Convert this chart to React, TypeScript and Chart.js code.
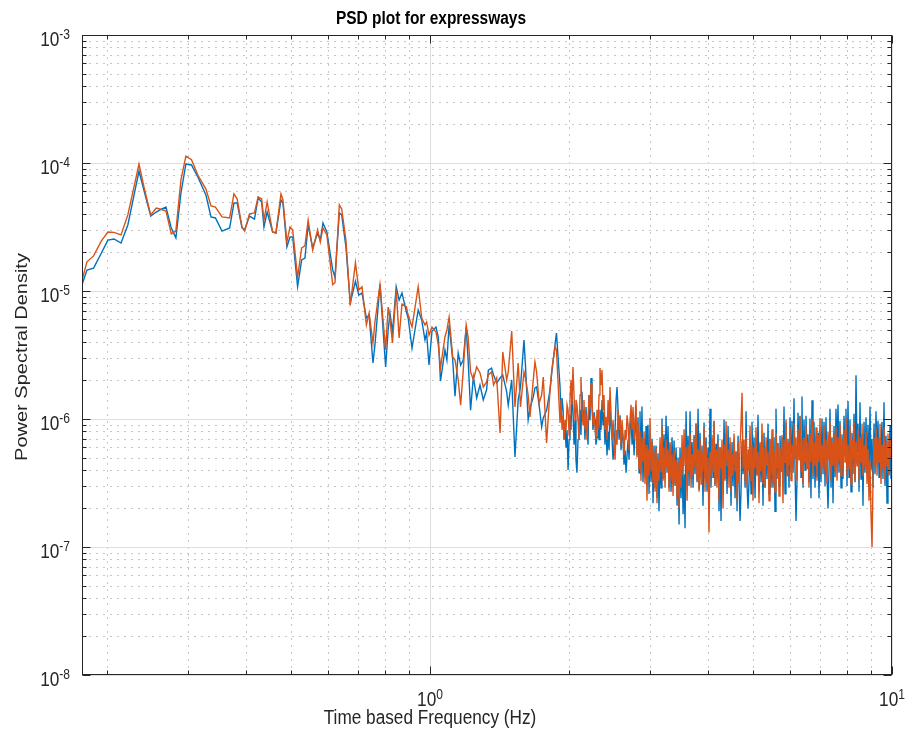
import React, { useEffect, useRef } from "react";
import { Chart, registerables } from "chart.js";

Chart.register(...registerables);

// Frequency grid (Hz), shared by both spectra
const FREQ_HZ = [
  0.1765, 0.1809, 0.1870, 0.1944, 0.2008, 0.2070, 0.2144, 0.2218, 0.2345, 0.2412,
  0.2486, 0.2555, 0.2604, 0.2682, 0.2754, 0.2818, 0.2890, 0.2962, 0.3046, 0.3144,
  0.3273, 0.3357, 0.3432, 0.3546, 0.3684, 0.3764, 0.3825, 0.3918, 0.3970, 0.4067,
  0.4169, 0.4246, 0.4321, 0.4371, 0.4441, 0.4565, 0.4639, 0.4758, 0.4805, 0.4900,
  0.4977, 0.5044, 0.5169, 0.5275, 0.5362, 0.5448, 0.5573, 0.5711, 0.5788, 0.5866,
  0.5981, 0.6157, 0.6227, 0.6364, 0.6439, 0.6577, 0.6721, 0.6896, 0.7013, 0.7125,
  0.7283, 0.7382, 0.7526, 0.7600, 0.7794, 0.8016, 0.8117, 0.8192, 0.8294, 0.8450,
  0.8573, 0.8697, 0.8891, 0.8968, 0.9143, 0.9428, 0.9595, 0.9752, 0.9833, 0.9950,
  1.0101, 1.0303, 1.0423, 1.0536, 1.0773, 1.0878, 1.0999, 1.1199, 1.1326, 1.1509,
  1.1651, 1.1802, 1.1976, 1.2092, 1.2241, 1.2411, 1.2619, 1.2830, 1.3042, 1.3260,
  1.3375, 1.3591, 1.3726, 1.3942, 1.4180, 1.4371, 1.4655, 1.4768, 1.5027, 1.5273,
  1.5518, 1.5699, 1.5973, 1.6091, 1.6310, 1.6460, 1.6732, 1.6872, 1.7011, 1.7226,
  1.7447, 1.7585, 1.7880, 1.8190, 1.8345, 1.8645, 1.8781,
  1.912, 1.922, 1.931, 1.941, 1.951, 1.960, 1.970, 1.980, 1.990, 2.000,
  2.009, 2.019, 2.029, 2.039, 2.050, 2.060, 2.070, 2.080, 2.091, 2.101,
  2.112, 2.122, 2.133, 2.144, 2.154, 2.165, 2.176, 2.187, 2.198, 2.209,
  2.220, 2.231, 2.242, 2.253, 2.265, 2.276, 2.287, 2.299, 2.310, 2.322,
  2.333, 2.345, 2.357, 2.369, 2.380, 2.392, 2.404, 2.416, 2.429, 2.441,
  2.453, 2.465, 2.478, 2.490, 2.503, 2.515, 2.528, 2.540, 2.553, 2.566,
  2.578, 2.591, 2.604, 2.617, 2.630, 2.644, 2.657, 2.670, 2.684, 2.697,
  2.710, 2.724, 2.738, 2.751, 2.765, 2.779,
  2.792, 2.806, 2.820, 2.834,
  2.848, 2.862, 2.876, 2.891, 2.906, 2.920, 2.935, 2.949, 2.964, 2.979,
  2.994, 3.009, 3.024, 3.039, 3.054, 3.070, 3.085, 3.100, 3.116, 3.131,
  3.147, 3.163, 3.178, 3.194, 3.210, 3.227, 3.243, 3.259, 3.275, 3.292,
  3.308, 3.325, 3.341, 3.358, 3.375, 3.392, 3.409, 3.426, 3.443, 3.460,
  3.477, 3.494, 3.512, 3.530, 3.547, 3.565, 3.583, 3.601, 3.619, 3.637,
  3.655, 3.673, 3.692, 3.710, 3.729, 3.747, 3.766, 3.785, 3.804, 3.823,
  3.841, 3.860, 3.879, 3.899, 3.919, 3.938, 3.958, 3.978, 3.997, 4.017,
  4.037, 4.057, 4.078, 4.098, 4.118, 4.139, 4.160, 4.180, 4.201, 4.222,
  4.244, 4.265, 4.287, 4.308, 4.330, 4.351, 4.373, 4.395, 4.417, 4.439,
  4.461, 4.483, 4.506, 4.528, 4.551, 4.574, 4.597, 4.620, 4.643, 4.666,
  4.689, 4.712, 4.736, 4.760, 4.784, 4.808, 4.832, 4.856, 4.880, 4.904,
  4.928, 4.953, 4.977, 5.002, 5.027, 5.053, 5.078, 5.103, 5.129, 5.154,
  5.180, 5.206, 5.232, 5.258, 5.284, 5.311, 5.338, 5.364, 5.391, 5.418,
  5.444, 5.471, 5.499, 5.526, 5.554, 5.582, 5.609, 5.637, 5.666, 5.694,
  5.722, 5.751, 5.779, 5.808, 5.838, 5.867, 5.896, 5.926, 5.955, 5.985,
  6.015, 6.045, 6.075, 6.106, 6.136, 6.167, 6.198, 6.229, 6.260, 6.291,
  6.322, 6.354, 6.385, 6.417, 6.450, 6.482, 6.514, 6.547, 6.579, 6.612,
  6.645, 6.678, 6.712, 6.745, 6.779, 6.813, 6.847, 6.881, 6.916, 6.950,
  6.985, 7.020, 7.055, 7.091, 7.126, 7.162, 7.197, 7.233, 7.269, 7.306,
  7.342, 7.379, 7.416, 7.453, 7.490, 7.528, 7.565, 7.603, 7.641, 7.679,
  7.717, 7.756, 7.794, 7.833, 7.873, 7.912, 7.951, 7.991, 8.031, 8.071,
  8.111, 8.152, 8.192, 8.233, 8.275, 8.316, 8.358, 8.400, 8.441, 8.484,
  8.526, 8.569, 8.611, 8.654, 8.698, 8.741, 8.785, 8.829, 8.873, 8.917,
  8.962, 9.007, 9.052, 9.097, 9.143, 9.189, 9.234, 9.281, 9.327, 9.374,
  9.419, 9.466, 9.513, 9.561, 9.609, 9.657, 9.705, 9.754, 9.802, 9.851,
  9.901, 9.950, 10.0,
];

// First spectrum (blue)
const PSD_BLUE = [
  1.12e-5, 1.46e-5, 1.51e-5, 1.98e-5, 2.50e-5, 2.55e-5, 2.37e-5, 3.28e-5, 8.66e-5, 5.83e-5,
  3.85e-5, 4.14e-5, 4.30e-5, 4.53e-5, 3.11e-5, 2.60e-5, 5.83e-5, 9.82e-5, 9.65e-5, 7.77e-5,
  5.62e-5, 3.79e-5, 3.72e-5, 2.94e-5, 3.11e-5, 4.87e-5, 4.87e-5, 3.11e-5, 3.00e-5, 3.85e-5,
  3.65e-5, 5.33e-5, 4.96e-5, 3.16e-5, 4.14e-5, 2.89e-5, 2.84e-5, 5.14e-5, 4.87e-5, 2.21e-5,
  2.64e-5, 2.64e-5, 1.08e-5, 1.75e-5, 1.81e-5, 3.28e-5, 2.17e-5, 2.84e-5, 2.50e-5, 3.40e-5,
  2.89e-5, 1.46e-5, 1.28e-5, 4.07e-5, 3.93e-5, 2.21e-5, 8.06e-6, 1.19e-5, 9.30e-6, 9.65e-6,
  6.15e-6, 6.49e-6, 2.74e-6, 3.79e-6, 1.13e-5, 2.55e-6, 4.96e-6, 6.73e-6, 4.78e-6, 1.08e-5,
  8.50e-6, 9.65e-6, 6.85e-6, 6.15e-6, 3.58e-6, 7.11e-6, 5.94e-6, 4.14e-6, 4.70e-6, 2.64e-6,
  4.87e-6, 5.23e-6, 4.37e-6, 1.98e-6, 3.46e-6, 2.89e-6, 5.43e-6, 2.89e-6, 1.51e-6, 3.28e-6,
  2.64e-6, 2.89e-6, 5.23e-6, 2.89e-6, 1.17e-6, 2.13e-6, 1.46e-6, 1.84e-6, 1.41e-6, 1.69e-6,
  2.41e-6, 2.50e-6, 2.21e-6, 1.91e-6, 2.09e-6, 2.21e-6, 1.63e-6, 1.28e-6, 2.02e-6, 5.05e-7,
  1.41e-6, 1.78e-6, 4.14e-6, 2.64e-6, 9.82e-7, 1.21e-6, 1.49e-6, 1.75e-6, 1.78e-6, 1.28e-6,
  8.66e-7, 1.02e-6, 1.17e-6, 1.69e-6, 2.29e-6, 3.79e-6, 4.70e-6,
  1.78e-6, 9.8e-7, 1.46e-6, 1.18e-6, 6.9e-7, 9.0e-7, 6.0e-7, 8.2e-7, 4.0e-7, 6.9e-7,
  1.07e-6, 8.2e-7, 1.54e-6, 1.18e-6, 6.3e-7, 9.8e-7, 4.8e-7, 3.8e-7, 6.9e-7, 9.0e-7,
  1.18e-6, 7.5e-7, 1.63e-6, 9.8e-7, 1.18e-6, 6.9e-7, 1.24e-6, 9.0e-7, 6.3e-7, 1.54e-6,
  9.8e-7, 2.09e-6, 1.29e-6, 8.2e-7, 1.13e-6, 9.8e-7, 6.3e-7, 7.2e-7, 1.07e-6, 6.9e-7,
  1.18e-6, 8.2e-7, 1.41e-6, 9.0e-7, 1.13e-6, 6.3e-7, 9.8e-7, 5.2e-7, 7.9e-7, 5.7e-7,
  1.41e-6, 9.0e-7, 6.9e-7, 4.8e-7, 6.3e-7, 8.2e-7, 1.41e-6, 1.78e-6, 1.18e-6, 6.9e-7,
  1.07e-6, 5.7e-7, 8.2e-7, 6.9e-7, 4.4e-7, 5.7e-7, 3.8e-7, 5.2e-7, 6.9e-7, 4.8e-7,
  9.0e-7, 9.8e-7, 6.3e-7, 9.0e-7, 5.2e-7, 8.2e-7,
  1.25e-6, 5.2e-7, 1.03e-6, 3.8e-7,
  1.15e-6, 3.7e-7, 1.25e-6, 3.2e-7, 7.0e-7, 3.5e-7, 8.8e-7, 3.0e-7, 9.0e-7, 2.6e-7,
  6.6e-7, 3.2e-7, 7.0e-7, 2.2e-7, 6.2e-7, 2.9e-7, 6.2e-7, 2.4e-7, 5.4e-7, 1.9e-7,
  5.5e-7, 2.9e-7, 1.01e-6, 3.4e-7, 7.6e-7, 3.7e-7, 1.06e-6, 3.8e-7, 8.8e-7, 2.9e-7,
  6.4e-7, 2.7e-7, 7.2e-7, 3.5e-7, 6.8e-7, 3.0e-7, 6.0e-7, 2.1e-7, 5.0e-7, 1.5e-7,
  6.0e-7, 2.4e-7, 5.2e-7, 1.8e-7, 3.7e-7, 1.4e-7, 1.15e-6, 3.6e-7, 7.4e-7, 3.0e-7,
  1.15e-6, 3.4e-7, 6.6e-7, 2.9e-7, 7.5e-7, 3.7e-7, 9.2e-7, 3.2e-7, 1.2e-6, 2.8e-7,
  7.8e-7, 3.5e-7, 6.2e-7, 2.1e-7, 9.4e-7, 3.4e-7, 7.2e-7, 2.7e-7, 6.0e-7, 3.5e-7,
  1.2e-6, 2.9e-7, 7.0e-7, 3.5e-7, 9.7e-7, 3.0e-7, 6.4e-7, 3.7e-7, 7.6e-7, 1.9e-7,
  6.0e-7, 1.6e-7, 5.6e-7, 3.1e-7, 9.9e-7, 3.4e-7, 7.6e-7, 2.6e-7, 8.8e-7, 3.8e-7,
  6.4e-7, 2.1e-7, 6.6e-7, 3.0e-7, 7.0e-7, 2.4e-7, 5.6e-7, 1.9e-7, 7.4e-7, 3.2e-7,
  1.6e-7, 2.7e-7, 6.8e-7, 3.7e-7, 6.2e-7, 2.9e-7, 1.15e-6, 3.0e-7, 2.0e-7, 3.3e-7,
  6.0e-7, 2.6e-7, 9.5e-7, 3.5e-7, 7.2e-7, 2.4e-7, 6.2e-7, 3.7e-7, 1.08e-6, 2.7e-7,
  6.4e-7, 3.2e-7, 7.4e-7, 2.1e-7, 7.8e-7, 2.9e-7, 6.0e-7, 3.4e-7, 9.2e-7, 2.6e-7,
  7.0e-7, 2.9e-7, 5.8e-7, 2.9e-7, 7.2e-7, 1.9e-7, 1.2e-6, 3.4e-7, 6.5e-7, 3.0e-7,
  7.4e-7, 4.0e-7, 7.2e-7, 3.1e-7, 1.25e-6, 2.6e-7, 9.4e-7, 3.7e-7, 7.0e-7, 2.9e-7,
  1.03e-6, 5.4e-7, 9.7e-7, 3.8e-7, 1.45e-6, 4.0e-7, 1.6e-7, 3.4e-7, 1.12e-6, 5.6e-7,
  1.06e-6, 3.5e-7, 1.5e-6, 2.9e-7, 9.9e-7, 4.0e-7, 1.06e-6, 5.2e-7, 7.6e-7, 3.2e-7,
  1.01e-6, 2.4e-7, 1.4e-6, 3.4e-7, 9.5e-7, 2.9e-7, 6.6e-7, 3.5e-7, 7.8e-7, 2.4e-7,
  6.8e-7, 3.2e-7, 1.01e-6, 3.7e-7, 9.5e-7, 3.0e-7, 1.03e-6, 3.7e-7, 2.0e-7, 4.0e-7,
  1.2e-6, 2.9e-7, 7.2e-7, 2.2e-7, 8.8e-7, 3.5e-7, 1.2e-6, 5.6e-7, 1.3e-6, 3.8e-7,
  9.7e-7, 2.9e-7, 7.6e-7, 3.4e-7, 1.06e-6, 5.2e-7, 1.2e-6, 3.0e-7, 1.38e-6, 3.5e-7,
  9.9e-7, 2.7e-7, 7.8e-7, 3.7e-7, 1.1e-6, 3.2e-7, 2.2e-6, 5.6e-7, 9.2e-7, 2.7e-7,
  1.35e-6, 3.4e-7, 7.6e-7, 2.1e-7, 9.5e-7, 3.8e-7, 1.03e-6, 3.7e-7, 9.0e-7, 3.5e-7,
  1.25e-6, 4.0e-7, 7.0e-7, 2.9e-7, 9.2e-7, 3.7e-7, 1.15e-6, 5.2e-7, 9.7e-7, 3.5e-7,
  7.2e-7, 5.6e-7, 9.5e-7, 3.4e-7, 1.35e-6, 3.0e-7, 7.4e-7, 2.2e-7, 6.8e-7, 3.7e-7,
  8.8e-7, 3.4e-7, 6.2e-7,
];

// Second spectrum (orange)
const PSD_ORANGE = [
  1.21e-5, 1.69e-5, 1.88e-5, 2.46e-5, 2.89e-5, 2.87e-5, 2.74e-5, 3.93e-5, 9.82e-5, 6.15e-5,
  3.93e-5, 4.45e-5, 4.37e-5, 4.22e-5, 2.79e-5, 2.94e-5, 7.37e-5, 1.13e-4, 1.06e-4, 8.06e-5,
  6.26e-5, 4.62e-5, 4.53e-5, 3.79e-5, 3.72e-5, 5.73e-5, 5.23e-5, 3.16e-5, 2.94e-5, 4.00e-5,
  4.07e-5, 5.43e-5, 5.23e-5, 3.58e-5, 4.96e-5, 2.89e-5, 2.84e-5, 5.73e-5, 5.14e-5, 2.41e-5,
  3.16e-5, 3.00e-5, 1.28e-5, 2.17e-5, 2.25e-5, 3.58e-5, 2.09e-5, 3.00e-5, 2.41e-5, 3.11e-5,
  2.74e-5, 1.12e-5, 1.16e-5, 4.70e-5, 4.37e-5, 2.50e-5, 7.77e-6, 1.66e-5, 1.02e-5, 1.08e-5,
  5.43e-6, 6.73e-6, 3.93e-6, 5.73e-6, 1.12e-5, 3.46e-6, 7.50e-6, 5.94e-6, 3.93e-6, 1.02e-5,
  4.30e-6, 7.91e-6, 7.50e-6, 6.49e-6, 5.23e-6, 1.08e-5, 6.15e-6, 5.43e-6, 5.73e-6, 4.53e-6,
  5.23e-6, 4.78e-6, 3.79e-6, 2.50e-6, 4.37e-6, 4.96e-6, 6.26e-6, 3.05e-6, 2.89e-6, 2.02e-6,
  1.28e-6, 2.41e-6, 5.43e-6, 4.37e-6, 2.33e-6, 2.02e-6, 2.55e-6, 2.29e-6, 1.78e-6, 1.95e-6,
  2.21e-6, 2.33e-6, 1.84e-6, 2.09e-6, 7.77e-7, 3.34e-6, 2.02e-6, 2.33e-6, 4.87e-6, 1.24e-6,
  2.74e-6, 1.24e-6, 2.33e-6, 2.09e-6, 1.54e-6, 1.04e-6, 2.02e-6, 2.79e-6, 2.33e-6, 1.33e-6,
  1.54e-6, 2.13e-6, 6.49e-7, 1.69e-6, 2.41e-6, 3.65e-6, 3.46e-6,
  9.3e-7, 1.41e-6, 8.2e-7, 1.07e-6, 6.9e-7, 9.8e-7, 8.2e-7, 1.29e-6, 1.18e-6, 7.5e-7,
  1.41e-6, 2.02e-6, 1.29e-6, 2.55e-6, 1.54e-6, 9.8e-7, 1.41e-6, 1.29e-6, 9.8e-7, 6.9e-7,
  1.54e-6, 2.13e-6, 1.18e-6, 9.0e-7, 1.41e-6, 8.2e-7, 1.11e-6, 6.9e-7, 9.8e-7, 1.54e-6,
  1.18e-6, 1.91e-6, 1.41e-6, 9.0e-7, 1.07e-6, 8.7e-7, 6.9e-7, 1.18e-6, 8.2e-7, 1.54e-6,
  2.50e-6, 1.84e-6, 2.41e-6, 1.18e-6, 1.54e-6, 8.2e-7, 1.04e-6, 6.9e-7, 1.41e-6, 9.0e-7,
  1.78e-6, 1.07e-6, 6.9e-7, 9.8e-7, 6.3e-7, 4.8e-7, 8.2e-7, 6.3e-7, 1.18e-6, 8.2e-7,
  1.02e-6, 6.3e-7, 9.8e-7, 7.5e-7, 5.2e-7, 8.2e-7, 6.9e-7, 1.07e-6, 9.0e-7, 5.7e-7,
  9.8e-7, 1.29e-6, 8.2e-7, 1.24e-6, 6.9e-7, 9.8e-7,
  1.4e-6, 5.0e-7, 9.2e-7, 4.1e-7,
  8.0e-7, 3.3e-7, 7.2e-7, 4.6e-7, 8.0e-7, 3.1e-7, 6.3e-7, 2.3e-7, 5.8e-7, 3.6e-7,
  1.02e-6, 3.9e-7, 6.6e-7, 3.1e-7, 5.5e-7, 2.7e-7, 6.0e-7, 2.2e-7, 4.8e-7, 3.3e-7,
  7.2e-7, 3.9e-7, 8.9e-7, 3.3e-7, 6.0e-7, 2.9e-7, 6.9e-7, 4.1e-7, 5.8e-7, 2.7e-7,
  6.6e-7, 3.3e-7, 5.3e-7, 2.5e-7, 5.8e-7, 3.1e-7, 4.8e-7, 2.4e-7, 4.6e-7, 2.0e-7,
  5.0e-7, 2.9e-7, 7.5e-7, 3.6e-7, 8.3e-7, 4.3e-7, 6.0e-7, 2.3e-7, 6.3e-7, 3.9e-7,
  7.7e-7, 2.9e-7, 5.3e-7, 3.6e-7, 7.2e-7, 4.1e-7, 9.2e-7, 3.3e-7, 5.8e-7, 2.7e-7,
  6.9e-7, 3.1e-7, 5.5e-7, 3.9e-7, 8.6e-7, 2.7e-7, 6.3e-7, 3.1e-7, 5.0e-7, 1.3e-7,
  5.5e-7, 3.6e-7, 7.5e-7, 3.9e-7, 9.6e-7, 3.1e-7, 5.8e-7, 2.9e-7, 6.6e-7, 2.3e-7,
  6.0e-7, 4.1e-7, 6.9e-7, 2.0e-7, 6.3e-7, 3.3e-7, 9.6e-7, 4.3e-7, 5.8e-7, 2.9e-7,
  7.2e-7, 2.7e-7, 5.3e-7, 3.6e-7, 7.7e-7, 3.9e-7, 5.5e-7, 2.3e-7, 6.6e-7, 3.1e-7,
  6.3e-7, 9.2e-7, 1.6e-6, 4.1e-7, 6.9e-7, 3.3e-7, 7.2e-7, 2.9e-7, 5.8e-7, 3.9e-7,
  8.9e-7, 3.3e-7, 6.3e-7, 2.3e-7, 6.0e-7, 4.1e-7, 8.6e-7, 3.6e-7, 5.5e-7, 2.2e-7,
  6.6e-7, 3.9e-7, 9.2e-7, 3.1e-7, 6.0e-7, 2.9e-7, 7.2e-7, 4.3e-7, 5.5e-7, 2.3e-7,
  6.9e-7, 3.6e-7, 8.3e-7, 3.1e-7, 5.8e-7, 2.7e-7, 7.7e-7, 4.1e-7, 6.3e-7, 2.5e-7,
  6.0e-7, 3.9e-7, 7.5e-7, 2.2e-7, 6.9e-7, 4.6e-7, 9.9e-7, 3.6e-7, 6.6e-7, 4.3e-7,
  8.6e-7, 3.3e-7, 6.3e-7, 4.1e-7, 9.2e-7, 4.8e-7, 7.2e-7, 3.3e-7, 8.3e-7, 4.8e-7,
  1.05e-6, 3.9e-7, 6.9e-7, 3.1e-7, 7.2e-7, 4.6e-7, 8.9e-7, 4.1e-7, 6.6e-7, 2.9e-7,
  7.7e-7, 4.6e-7, 9.9e-7, 3.6e-7, 6.6e-7, 4.3e-7, 8.6e-7, 3.3e-7, 7.5e-7, 4.6e-7,
  1.02e-6, 3.6e-7, 6.3e-7, 4.1e-7, 8.9e-7, 3.9e-7, 6.9e-7, 3.1e-7, 8.0e-7, 4.8e-7,
  9.6e-7, 3.3e-7, 6.6e-7, 4.3e-7, 7.7e-7, 3.9e-7, 8.6e-7, 3.3e-7, 7.2e-7, 4.6e-7,
  9.2e-7, 3.6e-7, 6.9e-7, 4.1e-7, 8.3e-7, 4.6e-7, 1.02e-6, 3.6e-7, 6.3e-7, 4.1e-7,
  8.9e-7, 3.1e-7, 6.9e-7, 4.8e-7, 9.6e-7, 3.3e-7, 6.6e-7, 4.3e-7, 8.3e-7, 3.3e-7,
  7.2e-7, 4.6e-7, 9.2e-7, 3.6e-7, 6.3e-7, 4.1e-7, 8.0e-7, 3.1e-7, 5.8e-7, 2.3e-7,
  4.6e-7, 1.8e-7, 1.0e-7, 3.3e-7, 7.2e-7, 4.3e-7, 8.6e-7, 3.6e-7, 7.2e-7, 4.6e-7,
  9.2e-7, 3.1e-7, 6.3e-7, 4.1e-7, 8.6e-7, 3.3e-7, 6.6e-7, 4.3e-7, 7.7e-7, 3.6e-7,
  6.9e-7, 4.8e-7, 5.5e-7,
];

const X_RANGE = [0.1765, 10];
const Y_RANGE = [1e-8, 1e-3];
const X_TICK_VALUES = [1, 10];
const X_TICK_EXPONENTS = ["0", "1"];
const Y_TICK_VALUES = [1e-8, 1e-7, 1e-6, 1e-5, 1e-4, 1e-3];
const Y_TICK_EXPONENTS = ["-8", "-7", "-6", "-5", "-4", "-3"];

const TITLE = "PSD plot for expressways";
const X_LABEL = "Time based Frequency (Hz)";
const Y_LABEL = "Power Spectral Density";

const BLUE = "#0072BD";
const ORANGE = "#D95319";
const AXIS_COLOR = "#262626";
const FAMILY = '"Liberation Sans", Arial, Helvetica, sans-serif';
const SQUEEZE = 0.86; // horizontal text compression
const BASE_FONT = `20px ${FAMILY}`;
const EXP_FONT = `14px ${FAMILY}`;
const LABEL_FONT = `20px ${FAMILY}`;
const TITLE_FONT = `bold 18px ${FAMILY}`;

function drawText(
  ctx: CanvasRenderingContext2D,
  str: string,
  x: number,
  y: number,
  font: string,
  align: CanvasTextAlign,
  rotate = false
) {
  ctx.save();
  ctx.translate(x, y);
  ctx.scale(SQUEEZE, 1);
  if (rotate) ctx.rotate(-Math.PI / 2);
  ctx.font = font;
  ctx.textAlign = align;
  ctx.textBaseline = rotate ? "middle" : "alphabetic";
  ctx.fillText(str, 0, 0);
  ctx.restore();
}

function drawPower(
  ctx: CanvasRenderingContext2D,
  exp: string,
  x: number,
  baseline: number,
  raise: number,
  anchor: "right" | "center"
) {
  ctx.font = BASE_FONT;
  const wb = ctx.measureText("10").width * SQUEEZE;
  ctx.font = EXP_FONT;
  const we = ctx.measureText(exp).width * SQUEEZE;
  const total = wb + we;
  const left = anchor === "right" ? x - total : x - total / 2;
  drawText(ctx, "10", left, baseline, BASE_FONT, "left");
  drawText(ctx, exp, left + wb, baseline - raise, EXP_FONT, "left");
}

function minorValues(lo: number, hi: number) {
  const out: number[] = [];
  for (let e = Math.floor(Math.log10(lo)); e < Math.ceil(Math.log10(hi)); e++) {
    for (let m = 2; m <= 9; m++) {
      const v = m * Math.pow(10, e);
      if (v > lo && v < hi) out.push(v);
    }
  }
  return out;
}

function decadeValues(lo: number, hi: number) {
  const out: number[] = [];
  for (let e = Math.ceil(Math.log10(lo) - 1e-9); e <= Math.floor(Math.log10(hi) + 1e-9); e++) {
    out.push(Math.pow(10, e));
  }
  return out;
}

const axesDecor = {
  id: "axesDecor",
  beforeDatasetsDraw(chart: any) {
    const { ctx, chartArea: a } = chart;
    const xs = chart.scales.x;
    const ys = chart.scales.y;
    ctx.save();
    ctx.lineWidth = 1;
    // dotted minor grid
    ctx.strokeStyle = "#c6c6c6";
    ctx.setLineDash([2, 5]);
    ctx.beginPath();
    for (const v of minorValues(X_RANGE[0], X_RANGE[1])) {
      const px = Math.round(xs.getPixelForValue(v)) + 0.5;
      ctx.moveTo(px, a.bottom);
      ctx.lineTo(px, a.top);
    }
    for (const v of minorValues(Y_RANGE[0], Y_RANGE[1])) {
      const py = Math.round(ys.getPixelForValue(v)) + 0.5;
      ctx.moveTo(a.left, py);
      ctx.lineTo(a.right, py);
    }
    ctx.stroke();
    // solid major grid
    ctx.setLineDash([]);
    ctx.strokeStyle = "#dedede";
    ctx.beginPath();
    for (const v of decadeValues(X_RANGE[0], X_RANGE[1])) {
      const px = Math.round(xs.getPixelForValue(v)) + 0.5;
      ctx.moveTo(px, a.bottom);
      ctx.lineTo(px, a.top);
    }
    for (const v of decadeValues(Y_RANGE[0], Y_RANGE[1])) {
      const py = Math.round(ys.getPixelForValue(v)) + 0.5;
      ctx.moveTo(a.left, py);
      ctx.lineTo(a.right, py);
    }
    ctx.stroke();
    ctx.restore();
  },
  afterDatasetsDraw(chart: any) {
    const { ctx, chartArea: a } = chart;
    const xs = chart.scales.x;
    const ys = chart.scales.y;
    const L = Math.round(a.left) + 0.5;
    const R = Math.round(a.right) - 0.5;
    const T = Math.round(a.top) + 0.5;
    const B = Math.round(a.bottom) - 0.5;
    ctx.save();
    ctx.strokeStyle = AXIS_COLOR;
    ctx.lineWidth = 1;
    ctx.beginPath();
    // inward ticks on all four sides
    const yTicks = (vals: number[], len: number) => {
      for (const v of vals) {
        const py = Math.round(ys.getPixelForValue(v)) + 0.5;
        ctx.moveTo(L, py);
        ctx.lineTo(L + len, py);
        ctx.moveTo(R, py);
        ctx.lineTo(R - len, py);
      }
    };
    const xTicks = (vals: number[], len: number) => {
      for (const v of vals) {
        const px = Math.round(xs.getPixelForValue(v)) + 0.5;
        ctx.moveTo(px, B);
        ctx.lineTo(px, B - len);
        ctx.moveTo(px, T);
        ctx.lineTo(px, T + len);
      }
    };
    yTicks(minorValues(Y_RANGE[0], Y_RANGE[1]), 4);
    yTicks(decadeValues(Y_RANGE[0], Y_RANGE[1]), 8);
    xTicks(minorValues(X_RANGE[0], X_RANGE[1]), 4);
    xTicks(decadeValues(X_RANGE[0], X_RANGE[1]), 8);
    ctx.stroke();
    ctx.strokeRect(L, T, R - L, B - T);

    // tick labels
    ctx.fillStyle = AXIS_COLOR;
    Y_TICK_VALUES.forEach((v, i) => {
      const py = ys.getPixelForValue(v);
      drawPower(ctx, Y_TICK_EXPONENTS[i], a.left - 12, py + 11, 7, "right");
    });
    X_TICK_VALUES.forEach((v, i) => {
      const px = xs.getPixelForValue(v);
      drawPower(ctx, X_TICK_EXPONENTS[i], px, a.bottom + 31, 7, "center");
    });

    // axis titles and chart title
    drawText(ctx, X_LABEL, 430, 724, LABEL_FONT, "center");
    drawText(ctx, Y_LABEL, 22, (a.top + a.bottom) / 2 + 2, LABEL_FONT, "center", true);
    ctx.fillStyle = "#000000";
    drawText(ctx, TITLE, 431, 24, TITLE_FONT, "center");
    ctx.restore();
  },
};

export default function App() {
  const canvasRef = useRef<HTMLCanvasElement | null>(null);

  useEffect(() => {
    const canvas = canvasRef.current;
    if (!canvas) return;
    const chart = new Chart(canvas, {
      type: "line",
      data: {
        datasets: [
          {
            label: "Series 1",
            data: FREQ_HZ.map((f, i) => ({ x: f, y: PSD_BLUE[i] })),
            borderColor: BLUE,
            borderWidth: 1.4,
            pointRadius: 0,
            tension: 0,
            fill: false,
            order: 1,
          },
          {
            label: "Series 2",
            data: FREQ_HZ.map((f, i) => ({ x: f, y: PSD_ORANGE[i] })),
            borderColor: ORANGE,
            borderWidth: 1.4,
            pointRadius: 0,
            tension: 0,
            fill: false,
            order: 0,
          },
        ],
      },
      options: {
        animation: false,
        responsive: true,
        maintainAspectRatio: false,
        layout: { padding: { left: 82, right: 16, top: 35, bottom: 63 } },
        scales: {
          x: { type: "logarithmic", min: X_RANGE[0], max: X_RANGE[1], display: false },
          y: { type: "logarithmic", min: Y_RANGE[0], max: Y_RANGE[1], display: false },
        },
        plugins: {
          legend: { display: false },
          title: { display: false },
          tooltip: { enabled: false },
        },
        events: [],
      },
      plugins: [axesDecor],
    });
    return () => chart.destroy();
  }, []);

  return (
    <div style={{ position: "absolute", left: 0, top: 0, width: 908, height: 738, background: "#ffffff" }}>
      <canvas ref={canvasRef} />
    </div>
  );
}
